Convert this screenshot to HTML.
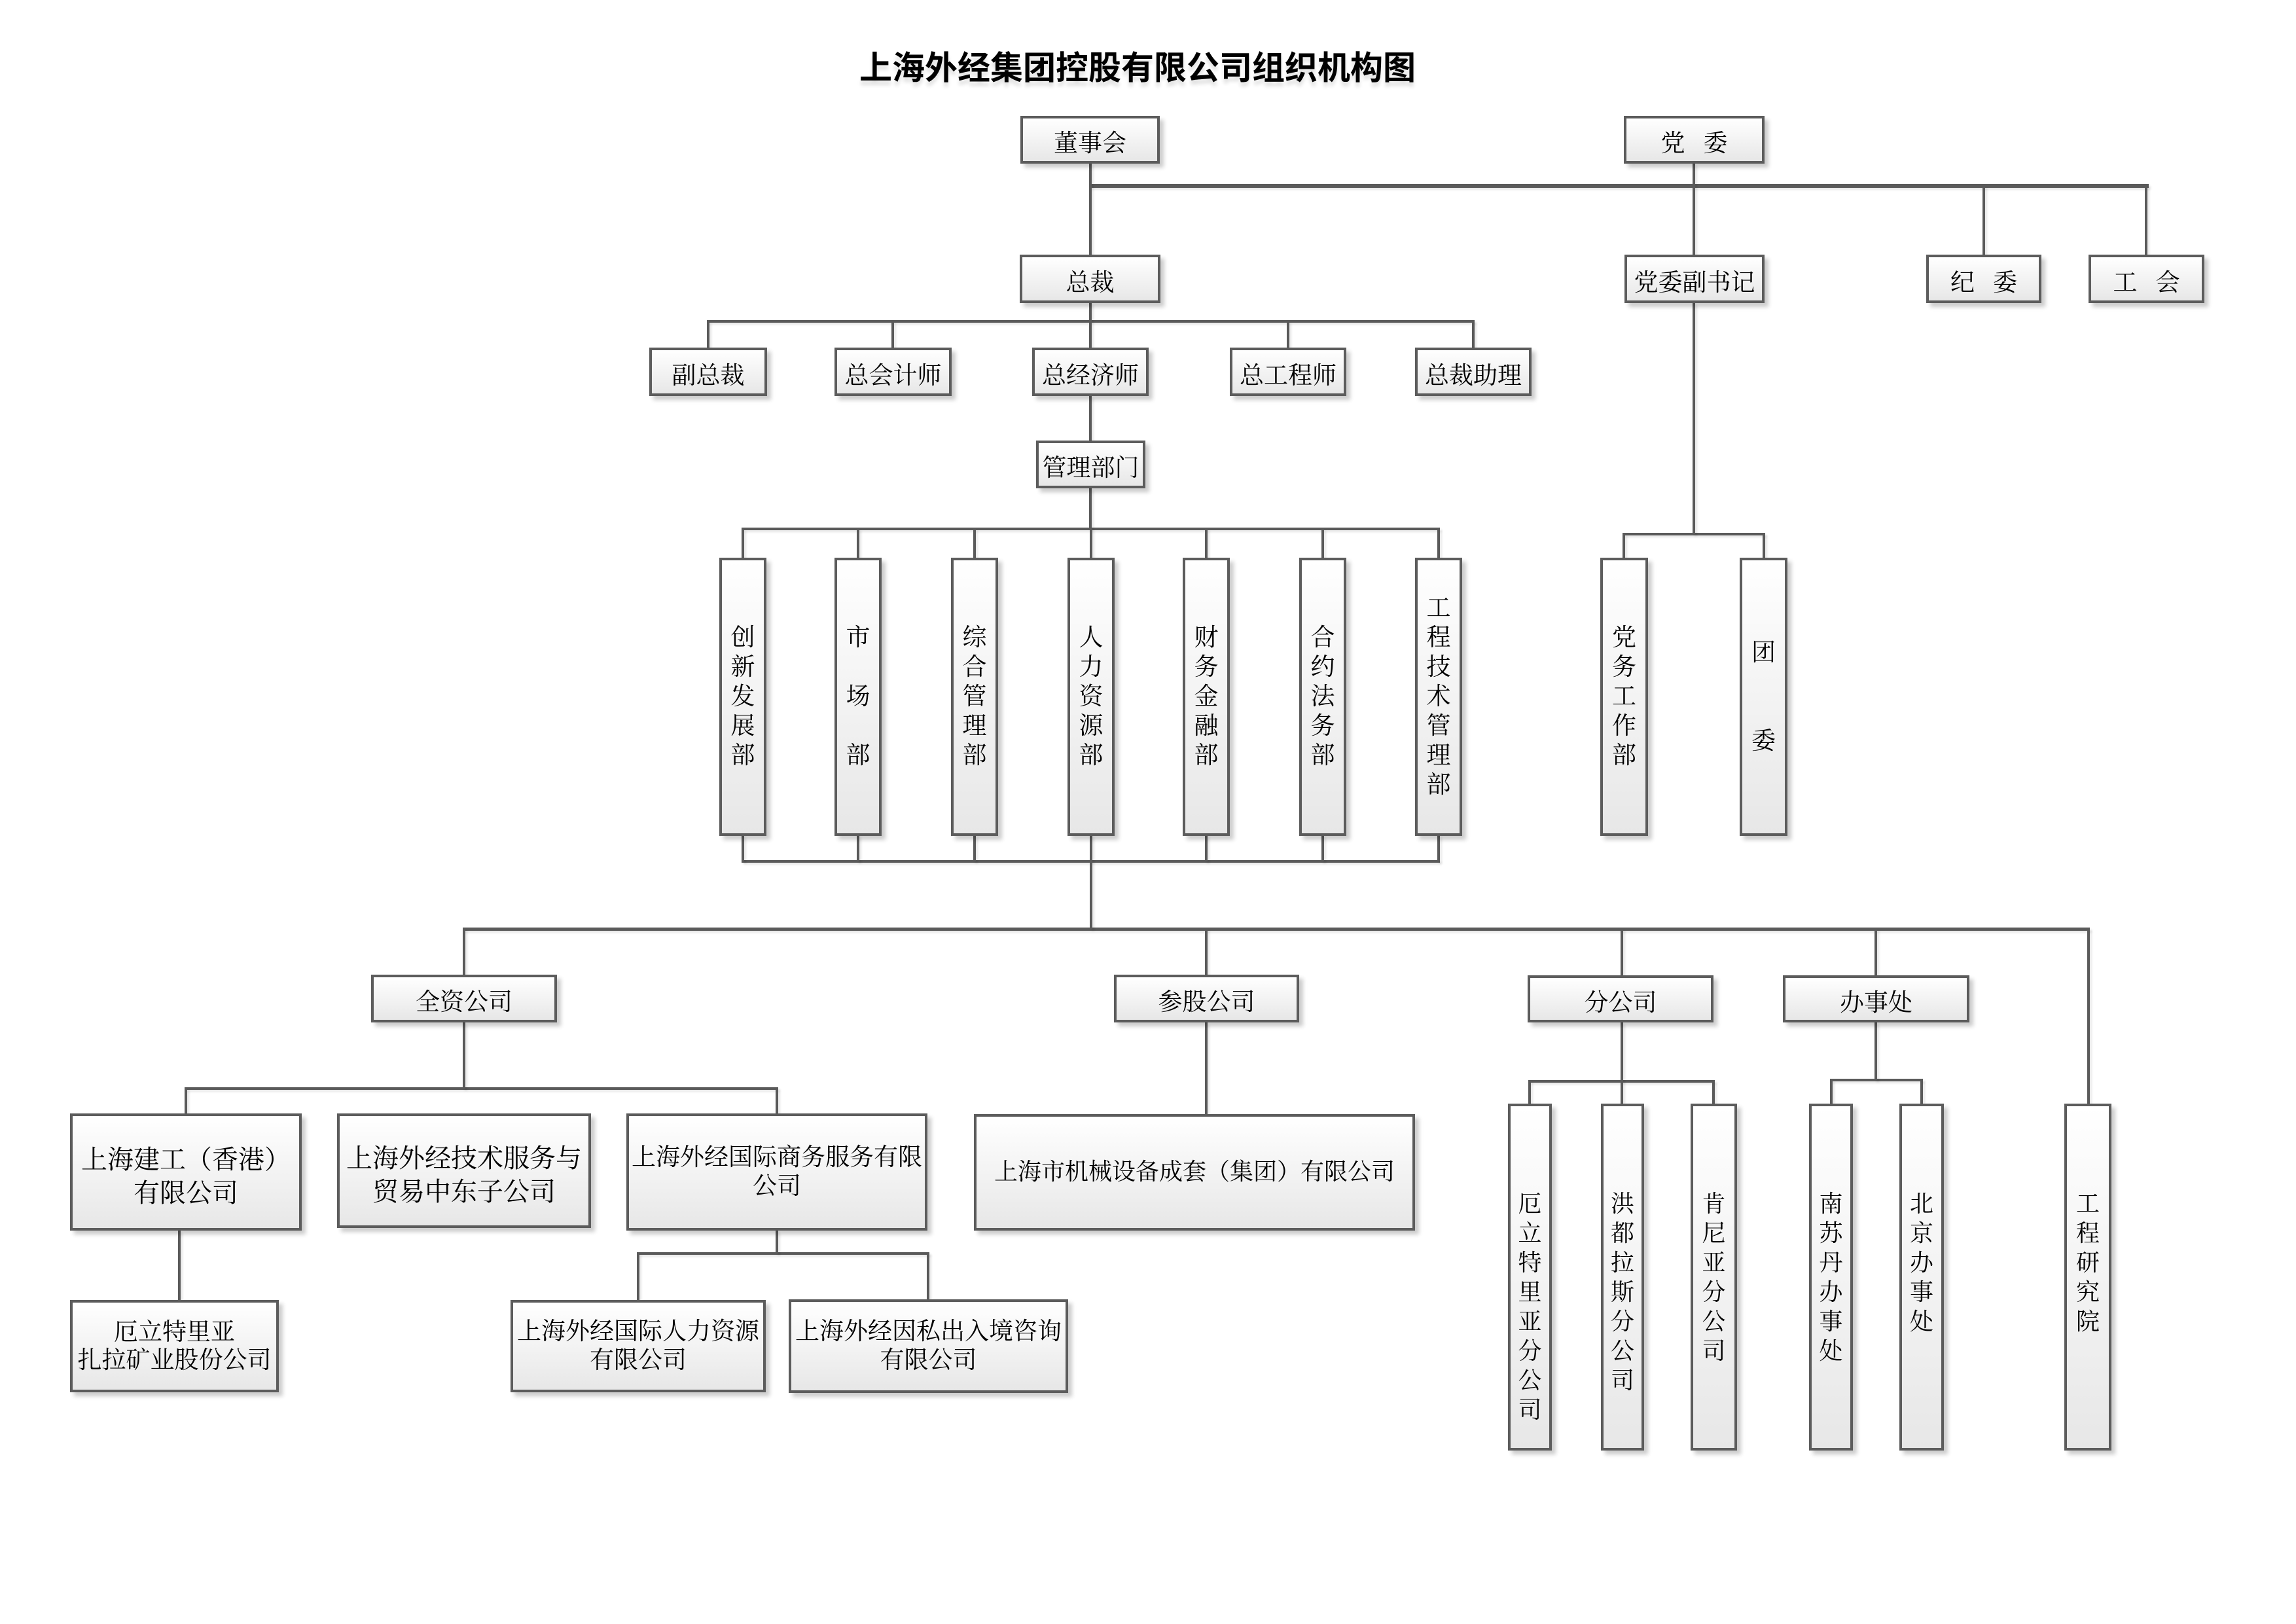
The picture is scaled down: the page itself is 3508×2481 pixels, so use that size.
<!DOCTYPE html>
<html>
<head>
<meta charset="utf-8">
<style>
html,body{margin:0;padding:0;}
body{width:3508px;height:2481px;background:#fff;position:relative;overflow:hidden;}
.l{position:absolute;background:#5a5a5a;box-shadow:3px 3px 3px rgba(0,0,0,0.10);}
.b{position:absolute;box-sizing:border-box;border:4px solid #5c5c5c;background:linear-gradient(#ffffff,#e7e7e7);box-shadow:6px 6px 6px rgba(0,0,0,0.2);display:flex;align-items:center;justify-content:center;text-align:center;font-family:"Liberation Serif","Noto Serif CJK SC",serif;font-size:37px;color:#000;white-space:nowrap;line-height:1.2;}
.s{padding-top:14px;}
.v{line-height:45px;}
.t{position:absolute;left:0;right:0;top:127px;line-height:45px;text-align:center;font-size:36px;}
.title{position:absolute;left:1313px;top:76px;width:850px;font-family:"Liberation Sans","Noto Sans CJK SC",sans-serif;font-weight:bold;font-size:50px;line-height:56px;white-space:nowrap;color:#000;text-shadow:0 7px 6px rgba(0,0,0,0.12);}
.sp{display:inline-block;width:28px;}
.p{display:inline-block;width:1em;text-align:center;}
</style>
</head>
<body>

<div class="title">上海外经集团控股有限公司组织机构图</div>

<!-- horizontal lines -->
<div class="l" style="left:1664px;top:281px;width:1619px;height:6px;"></div>
<div class="l" style="left:1080px;top:489px;width:1173px;height:4px;"></div>
<div class="l" style="left:1133px;top:806px;width:1067px;height:4px;"></div>
<div class="l" style="left:1133px;top:1314px;width:1067px;height:4px;"></div>
<div class="l" style="left:2479px;top:814px;width:218px;height:4px;"></div>
<div class="l" style="left:707px;top:1417px;width:2486px;height:5px;"></div>
<div class="l" style="left:282px;top:1661px;width:907px;height:4px;"></div>
<div class="l" style="left:973px;top:1913px;width:447px;height:4px;"></div>
<div class="l" style="left:2335px;top:1650px;width:285px;height:4px;"></div>
<div class="l" style="left:2796px;top:1648px;width:142px;height:4px;"></div>

<!-- vertical lines -->
<div class="l" style="left:1664px;top:250px;width:4px;height:140px;"></div>
<div class="l" style="left:2586px;top:250px;width:4px;height:140px;"></div>
<div class="l" style="left:3029px;top:284px;width:4px;height:106px;"></div>
<div class="l" style="left:3277px;top:284px;width:4px;height:106px;"></div>
<div class="l" style="left:1664px;top:463px;width:4px;height:28px;"></div>
<div class="l" style="left:1080px;top:491px;width:4px;height:40px;"></div>
<div class="l" style="left:1362px;top:491px;width:4px;height:40px;"></div>
<div class="l" style="left:1664px;top:491px;width:4px;height:40px;"></div>
<div class="l" style="left:1966px;top:491px;width:4px;height:40px;"></div>
<div class="l" style="left:2249px;top:491px;width:4px;height:40px;"></div>
<div class="l" style="left:1664px;top:605px;width:4px;height:68px;"></div>
<div class="l" style="left:1664px;top:746px;width:4px;height:62px;"></div>

<div class="l" style="left:1133px;top:808px;width:4px;height:45px;"></div>
<div class="l" style="left:1309px;top:808px;width:4px;height:45px;"></div>
<div class="l" style="left:1487px;top:808px;width:4px;height:45px;"></div>
<div class="l" style="left:1665px;top:808px;width:4px;height:45px;"></div>
<div class="l" style="left:1841px;top:808px;width:4px;height:45px;"></div>
<div class="l" style="left:2019px;top:808px;width:4px;height:45px;"></div>
<div class="l" style="left:2196px;top:808px;width:4px;height:45px;"></div>

<div class="l" style="left:1133px;top:1276px;width:4px;height:40px;"></div>
<div class="l" style="left:1309px;top:1276px;width:4px;height:40px;"></div>
<div class="l" style="left:1487px;top:1276px;width:4px;height:40px;"></div>
<div class="l" style="left:1665px;top:1276px;width:4px;height:40px;"></div>
<div class="l" style="left:1841px;top:1276px;width:4px;height:40px;"></div>
<div class="l" style="left:2019px;top:1276px;width:4px;height:40px;"></div>
<div class="l" style="left:2196px;top:1276px;width:4px;height:40px;"></div>

<div class="l" style="left:1665px;top:1316px;width:4px;height:103px;"></div>
<div class="l" style="left:2586px;top:463px;width:4px;height:353px;"></div>
<div class="l" style="left:2479px;top:816px;width:4px;height:37px;"></div>
<div class="l" style="left:2693px;top:816px;width:4px;height:37px;"></div>

<div class="l" style="left:707px;top:1419px;width:4px;height:71px;"></div>
<div class="l" style="left:1841px;top:1419px;width:4px;height:71px;"></div>
<div class="l" style="left:2476px;top:1419px;width:4px;height:71px;"></div>
<div class="l" style="left:2864px;top:1419px;width:4px;height:71px;"></div>
<div class="l" style="left:3189px;top:1419px;width:4px;height:268px;"></div>

<div class="l" style="left:707px;top:1562px;width:4px;height:101px;"></div>
<div class="l" style="left:282px;top:1663px;width:4px;height:39px;"></div>
<div class="l" style="left:1185px;top:1663px;width:4px;height:39px;"></div>
<div class="l" style="left:1841px;top:1562px;width:4px;height:141px;"></div>
<div class="l" style="left:272px;top:1880px;width:4px;height:107px;"></div>
<div class="l" style="left:1185px;top:1880px;width:4px;height:35px;"></div>
<div class="l" style="left:973px;top:1915px;width:4px;height:72px;"></div>
<div class="l" style="left:1416px;top:1915px;width:4px;height:72px;"></div>

<div class="l" style="left:2476px;top:1562px;width:4px;height:125px;"></div>
<div class="l" style="left:2335px;top:1652px;width:4px;height:35px;"></div>
<div class="l" style="left:2616px;top:1652px;width:4px;height:35px;"></div>
<div class="l" style="left:2864px;top:1562px;width:4px;height:88px;"></div>
<div class="l" style="left:2796px;top:1650px;width:4px;height:37px;"></div>
<div class="l" style="left:2934px;top:1650px;width:4px;height:37px;"></div>

<!-- top boxes -->
<div class="b s" style="left:1559px;top:177px;width:213px;height:73px;">董事会</div>
<div class="b s" style="left:2481px;top:177px;width:215px;height:73px;">党<span class="sp"></span>委</div>

<div class="b s" style="left:1558px;top:389px;width:215px;height:74px;">总裁</div>
<div class="b s" style="left:2482px;top:389px;width:214px;height:74px;">党委副书记</div>
<div class="b s" style="left:2943px;top:389px;width:176px;height:74px;">纪<span class="sp"></span>委</div>
<div class="b s" style="left:3191px;top:389px;width:177px;height:74px;">工<span class="sp"></span>会</div>

<div class="b s" style="left:992px;top:531px;width:180px;height:74px;">副总裁</div>
<div class="b s" style="left:1275px;top:531px;width:179px;height:74px;">总会计师</div>
<div class="b s" style="left:1577px;top:531px;width:178px;height:74px;">总经济师</div>
<div class="b s" style="left:1879px;top:531px;width:178px;height:74px;">总工程师</div>
<div class="b s" style="left:2162px;top:531px;width:178px;height:74px;">总裁助理</div>

<div class="b s" style="left:1583px;top:673px;width:167px;height:73px;">管理部门</div>

<!-- departments -->
<div class="b v" style="left:1099px;top:852px;width:72px;height:425px;">创<br>新<br>发<br>展<br>部</div>
<div class="b v" style="left:1275px;top:852px;width:72px;height:425px;">市<br><br>场<br><br>部</div>
<div class="b v" style="left:1453px;top:852px;width:72px;height:425px;">综<br>合<br>管<br>理<br>部</div>
<div class="b v" style="left:1631px;top:852px;width:72px;height:425px;">人<br>力<br>资<br>源<br>部</div>
<div class="b v" style="left:1807px;top:852px;width:72px;height:425px;">财<br>务<br>金<br>融<br>部</div>
<div class="b v" style="left:1985px;top:852px;width:72px;height:425px;">合<br>约<br>法<br>务<br>部</div>
<div class="b v" style="left:2162px;top:852px;width:72px;height:425px;">工<br>程<br>技<br>术<br>管<br>理<br>部</div>

<div class="b v" style="left:2445px;top:852px;width:73px;height:425px;">党<br>务<br>工<br>作<br>部</div>
<div class="b v" style="left:2658px;top:852px;width:73px;height:425px;">团<br><br><br>委</div>

<!-- row 4 -->
<div class="b s" style="left:567px;top:1489px;width:284px;height:73px;">全资公司</div>
<div class="b s" style="left:1702px;top:1489px;width:283px;height:73px;">参股公司</div>
<div class="b s" style="left:2334px;top:1490px;width:284px;height:72px;">分公司</div>
<div class="b s" style="left:2724px;top:1490px;width:285px;height:72px;">办事处</div>

<!-- row 5 -->
<div class="b" style="left:107px;top:1701px;width:354px;height:179px;font-size:40px;line-height:51px;padding-top:12px;"><span>上海建工<span class="p">（</span>香港<span class="p">）</span><br>有限公司</span></div>
<div class="b" style="left:515px;top:1701px;width:388px;height:175px;font-size:40px;line-height:51px;padding-top:12px;">上海外经技术服务与<br>贸易中东子公司</div>
<div class="b" style="left:957px;top:1701px;width:460px;height:179px;font-size:37px;line-height:44px;">上海外经国际商务服务有限<br>公司</div>
<div class="b" style="left:1488px;top:1702px;width:674px;height:178px;font-size:36px;"><span>上海市机械设备成套<span class="p">（</span>集团<span class="p">）</span>有限公司</span></div>

<!-- row 6 -->
<div class="b" style="left:107px;top:1986px;width:319px;height:141px;font-size:37px;line-height:43px;">厄立特里亚<br>扎拉矿业股份公司</div>
<div class="b" style="left:780px;top:1986px;width:390px;height:141px;font-size:37px;line-height:44px;">上海外经国际人力资源<br>有限公司</div>
<div class="b" style="left:1205px;top:1985px;width:427px;height:143px;font-size:37px;line-height:44px;">上海外经因私出入境咨询<br>有限公司</div>

<!-- bottom right vertical boxes -->
<div class="b" style="left:2304px;top:1686px;width:67px;height:530px;display:block;"><div class="t">厄<br>立<br>特<br>里<br>亚<br>分<br>公<br>司</div></div>
<div class="b" style="left:2446px;top:1686px;width:66px;height:530px;display:block;"><div class="t">洪<br>都<br>拉<br>斯<br>分<br>公<br>司</div></div>
<div class="b" style="left:2583px;top:1686px;width:71px;height:530px;display:block;"><div class="t">肯<br>尼<br>亚<br>分<br>公<br>司</div></div>
<div class="b" style="left:2764px;top:1686px;width:67px;height:530px;display:block;"><div class="t">南<br>苏<br>丹<br>办<br>事<br>处</div></div>
<div class="b" style="left:2902px;top:1686px;width:68px;height:530px;display:block;"><div class="t">北<br>京<br>办<br>事<br>处</div></div>
<div class="b" style="left:3154px;top:1686px;width:72px;height:530px;display:block;"><div class="t">工<br>程<br>研<br>究<br>院</div></div>

</body>
</html>
